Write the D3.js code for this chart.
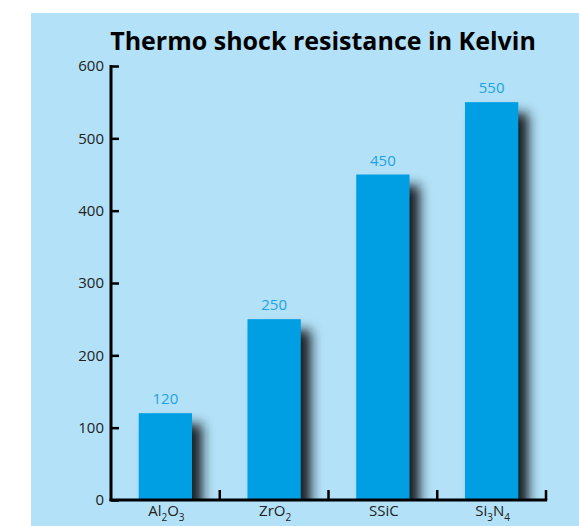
<!DOCTYPE html>
<html>
<head>
<meta charset="utf-8">
<script src="https://cdn.jsdelivr.net/npm/d3@7"></script>
<style>
  body { margin: 0; background: #fff; }
  svg { display: block; }
</style>
</head>
<body>
<script>
// thermo shock resistance
var materials = ["Al2O3", "ZrO2", "SSiC", "Si3N4"];
// label pieces: [text, isSubscript]
var labelParts = [
  [["Al", 0], ["2", 1], ["O", 0], ["3", 1]],
  [["ZrO", 0], ["2", 1]],
  [["SSiC", 0]],
  [["Si", 0], ["3", 1], ["N", 0], ["4", 1]]
];
var kelvin = [120, 250, 450, 550];
var yTicks = [0, 100, 200, 300, 400, 500, 600];

function chart() {
  var W = 579, H = 526;
  var margin = {top: 66, left: 111, right: 33, bottom: 26},
      width = W - margin.left - margin.right,
      height = H - margin.top - margin.bottom;

  var svg = d3.select("body").append("svg")
      .attr("width", W)
      .attr("height", H);

  // light blue panel
  svg.append("rect")
      .attr("x", 31).attr("y", 13)
      .attr("width", W - 31).attr("height", H - 13)
      .attr("fill", "#b3e1f7");

  var defs = svg.append("defs");
  var f = defs.append("filter").attr("id", "blur")
      .attr("x", "-50%").attr("y", "-50%").attr("width", "200%").attr("height", "200%");
  f.append("feGaussianBlur").attr("stdDeviation", 6);

  defs.append("clipPath").attr("id", "plotclip")
    .append("rect").attr("x", 0).attr("y", -50).attr("width", width + 40).attr("height", height + 50);

  svg.append("text")
      .attr("x", 323).attr("y", 50)
      .attr("text-anchor", "middle")
      .style("font-family", "'Open Sans', sans-serif")
      .style("font-weight", "bold")
      .style("font-size", "25px")
      .attr("fill", "#000")
      .text("Thermo shock resistance in Kelvin");

  var g = svg.append("g")
      .attr("transform", "translate(" + margin.left + "," + margin.top + ")");

  var x = d3.scaleBand().domain(materials).range([0, width])
      .paddingInner(0.51).paddingOuter(0.255);
  var xBand = d3.scaleBand().domain(materials).range([0, width]);
  var y = d3.scaleLinear().domain([0, 600]).range([height, 0]);

  // shadows
  g.append("g").attr("clip-path", "url(#plotclip)")
    .selectAll(".shadow")
    .data(kelvin)
    .enter().append("rect")
      .attr("class", "shadow")
      .attr("x", function(d, i) { return x(materials[i]) + 10; })
      .attr("y", function(d) { return y(d) + 11; })
      .attr("width", x.bandwidth())
      .attr("height", function(d) { return height - y(d); })
      .attr("fill", "#141b20")
      .attr("filter", "url(#blur)");

  // bars
  g.selectAll(".bar")
    .data(kelvin)
    .enter().append("rect")
      .attr("class", "bar")
      .attr("x", function(d, i) { return x(materials[i]); })
      .attr("y", function(d) { return y(d); })
      .attr("width", x.bandwidth())
      .attr("height", function(d) { return height - y(d); })
      .attr("fill", "#009fe3");

  // value labels
  g.selectAll(".val")
    .data(kelvin)
    .enter().append("text")
      .attr("class", "val")
      .attr("x", function(d, i) { return x(materials[i]) + x.bandwidth() / 2; })
      .attr("y", function(d) { return y(d) - 9; })
      .attr("text-anchor", "middle")
      .style("font-family", "'Open Sans', sans-serif")
      .style("font-size", "15px")
      .attr("fill", "#1fa2e2")
      .text(function(d) { return d; });

  // y axis
  var yAxis = d3.axisRight(y).tickValues(yTicks).tickSize(8).tickFormat(d3.format("d"));
  var ya = g.append("g").call(yAxis);
  ya.select(".domain").remove();
  ya.selectAll(".tick line").attr("stroke", "#000").attr("stroke-width", 2.5);
  ya.selectAll(".tick text")
      .attr("x", -7).attr("text-anchor", "end")
      .style("font-family", "'Open Sans', sans-serif")
      .style("font-size", "15px")
      .attr("fill", "#222");

  // x axis: ticks on band edges, pointing up
  var edges = materials.map(function(m) { return xBand(m); }).concat([width]);
  g.selectAll(".xtick")
    .data(edges.slice(1))
    .enter().append("line")
      .attr("x1", function(d) { return d; }).attr("x2", function(d) { return d; })
      .attr("y1", height).attr("y2", height - 10)
      .attr("stroke", "#000").attr("stroke-width", 2.5);

  g.append("line")
      .attr("x1", 0).attr("x2", 0).attr("y1", -1).attr("y2", height + 1)
      .attr("stroke", "#000").attr("stroke-width", 3);
  g.append("line")
      .attr("x1", -1.5).attr("x2", width + 1.2).attr("y1", height).attr("y2", height)
      .attr("stroke", "#000").attr("stroke-width", 3);

  // category labels with subscripts
  var lab = g.selectAll(".xlab")
    .data(labelParts)
    .enter().append("text")
      .attr("class", "xlab")
      .attr("x", function(d, i) { return xBand(materials[i]) + xBand.bandwidth() / 2 + 1; })
      .attr("y", height + 21)
      .attr("text-anchor", "middle")
      .style("font-family", "'Open Sans', sans-serif")
      .style("font-size", "15px")
      .attr("fill", "#222");
  lab.each(function(parts) {
    var t = d3.select(this);
    parts.forEach(function(p) {
      t.append("tspan")
        .attr("dy", p[1] ? 5 : (t.selectAll("tspan").size() ? -5 : 0))
        .style("font-size", p[1] ? "10px" : "15px")
        .text(p[0]);
    });
  });
}

window.onload = chart();
</script>
</body>
</html>
